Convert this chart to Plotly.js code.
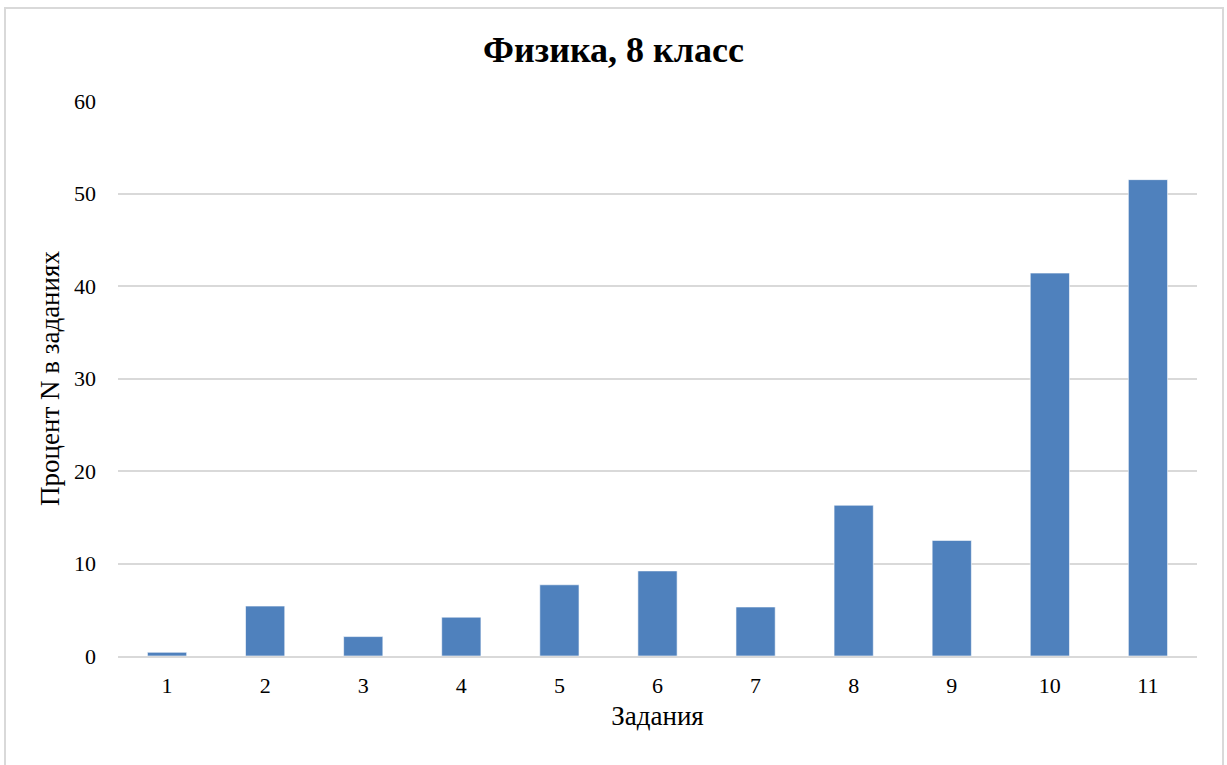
<!DOCTYPE html>
<html>
<head>
<meta charset="utf-8">
<script src="https://cdn.plot.ly/plotly-3.0.1.min.js"></script>
<style>
html,body{margin:0;padding:0;background:#fff;}
#chart{width:1227px;height:765px;position:absolute;left:0;top:0;}
#frame{position:absolute;left:4px;top:7px;width:1216px;height:780px;border:2px solid #d9d9d9;pointer-events:none;}
</style>
</head>
<body>
<div id="chart"></div>
<div id="frame"></div>
<script>
const categories = ["1","2","3","4","5","6","7","8","9","10","11"];
const values = [0.4, 5.4, 2.1, 4.2, 7.7, 9.2, 5.3, 16.3, 12.5, 41.4, 51.5];
const yTicks = [0, 10, 20, 30, 40, 50, 60];

const font = "Liberation Serif, Times New Roman, serif";

Plotly.newPlot('chart', [{
  type: 'bar',
  x: categories,
  y: values,
  marker: {color: '#4f81bd', line: {color: 'rgba(255,255,255,0.6)', width: 1}},
  hoverinfo: 'x+y'
}], {
  width: 1227, height: 765,
  margin: {l: 118, r: 30, t: 101, b: 109},
  paper_bgcolor: '#fff', plot_bgcolor: '#fff',
  bargap: 0.6,
  showlegend: false,
  title: {text: '<b>Физика, 8 класс</b>', font: {family: font, size: 36, color: '#000'}, x: 0.5, xanchor: 'center', y: 0.935, yanchor: 'middle'},
  xaxis: {
    type: 'category',
    tickfont: {family: font, size: 22, color: '#000'},
    showgrid: false, zeroline: false,
    showline: true, linecolor: '#d9d9d9', linewidth: 2,
    ticks: '', ticklabelstandoff: 9,
    title: {text: 'Задания', font: {family: font, size: 27, color: '#000'}, standoff: 9}
  },
  yaxis: {
    range: [0, 60],
    tickvals: yTicks,
    tickfont: {family: font, size: 22, color: '#000'},
    showgrid: true, gridcolor: '#d9d9d9', gridwidth: 2,
    zeroline: false, showline: false,
    ticks: '', ticklabelstandoff: 21,
    title: {text: 'Процент N в заданиях', font: {family: font, size: 27, color: '#000'}, standoff: 6}
  }
}, {displayModeBar: false});
</script>
</body>
</html>
